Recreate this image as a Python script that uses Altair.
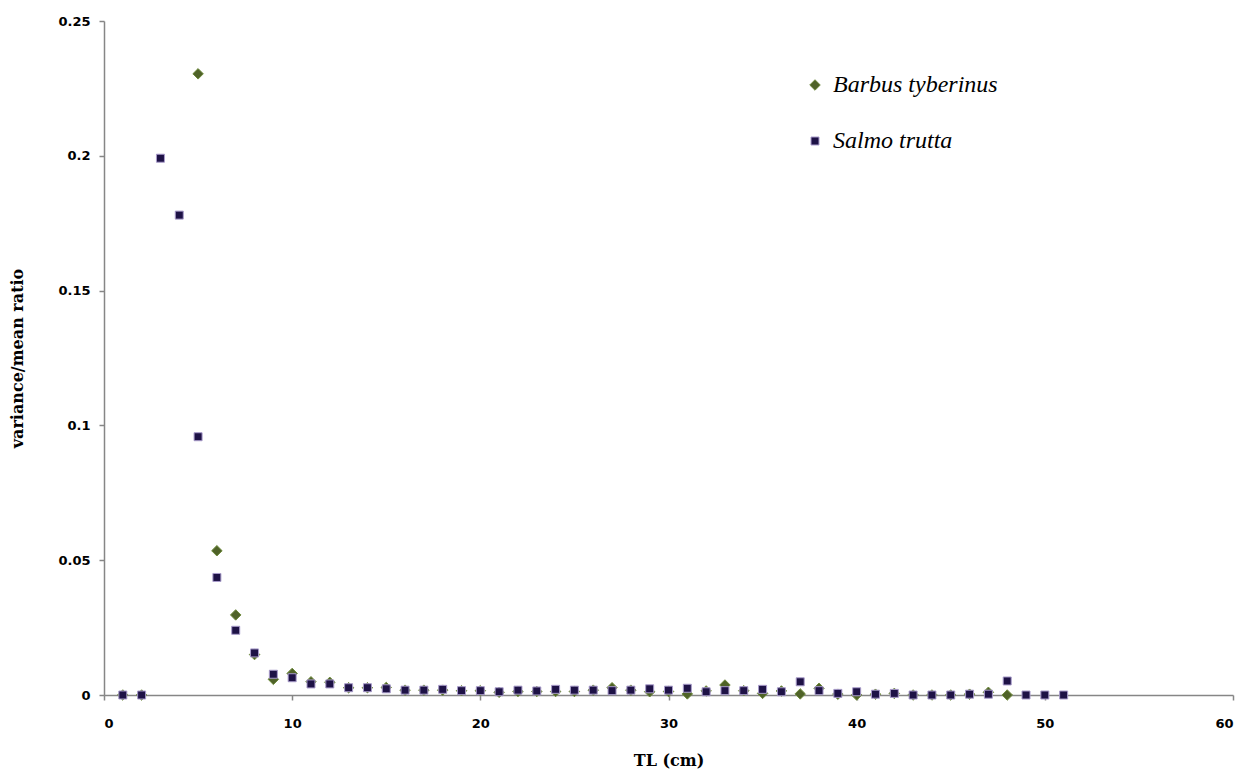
import altair as alt
import pandas as pd

species_names = ["Barbus tyberinus", "Salmo trutta"]

barbus_tl = [1, 2, 5, 6, 7, 8, 9, 10, 11, 12, 13, 14, 15, 16, 17, 18, 19, 20, 21, 22, 23, 24, 25,
             26, 27, 28, 29, 30, 31, 32, 33, 34, 35, 36, 37, 38, 39, 40, 41, 42, 43, 44, 45, 46, 47, 48]
barbus_ratio = [0.0, 0.0, 0.2304, 0.0535, 0.0297, 0.0150, 0.0058, 0.0080, 0.0049, 0.0047, 0.0027,
                0.0027, 0.0028, 0.0018, 0.0018, 0.0018, 0.0016, 0.0016, 0.0010, 0.0013, 0.0013,
                0.0013, 0.0013, 0.0018, 0.0027, 0.0018, 0.0012, 0.0013, 0.0004, 0.0015, 0.0037,
                0.0016, 0.0006, 0.0015, 0.0004, 0.0025, 0.0003, 0.0, 0.0003, 0.0006, 0.0, 0.0,
                0.0, 0.0003, 0.0010, 0.0]

salmo_tl = list(range(1, 52))
salmo_ratio = [0.0, 0.0, 0.1991, 0.178, 0.0958, 0.0436, 0.0240, 0.0156, 0.0077, 0.0064, 0.0041,
               0.0041, 0.0027, 0.0027, 0.0023, 0.0018, 0.0018, 0.0021, 0.0016, 0.0016, 0.0012,
               0.0018, 0.0015, 0.0021, 0.0018, 0.0018, 0.0016, 0.0018, 0.0023, 0.0018, 0.0025,
               0.0012, 0.0016, 0.0016, 0.0021, 0.0012, 0.0049, 0.0016, 0.0006, 0.0012, 0.0003,
               0.0006, 0.0, 0.0, 0.0, 0.0003, 0.0003, 0.0052, 0.0, 0.0, 0.0]

x_ticks = [0, 10, 20, 30, 40, 50, 60]
y_ticks = [0, 0.05, 0.1, 0.15, 0.2, 0.25]

rows = []
for tl, r in zip(barbus_tl, barbus_ratio):
    rows.append({"TL": tl, "ratio": r, "species": species_names[0]})
for tl, r in zip(salmo_tl, salmo_ratio):
    rows.append({"TL": tl, "ratio": r, "species": species_names[1]})
df = pd.DataFrame(rows)

legend = alt.Legend(
    title=None, orient="none", legendX=699, legendY=52,
    labelFont="Liberation Serif", labelFontStyle="italic", labelFontSize=24,
    labelColor="#000000", rowPadding=32, symbolStrokeWidth=1, labelOffset=6,
    labelLimit=400,
)

chart = alt.Chart(df).mark_point(filled=True, opacity=1, strokeWidth=1).encode(
    x=alt.X("TL:Q", scale=alt.Scale(domain=[0, 60], nice=False),
            axis=alt.Axis(values=x_ticks, title="TL (cm)", format="d")),
    y=alt.Y("ratio:Q", scale=alt.Scale(domain=[0, 0.25], nice=False),
            axis=alt.Axis(values=y_ticks, title="variance/mean ratio", format="~g")),
    shape=alt.Shape("species:N", scale=alt.Scale(domain=species_names, range=["diamond", "square"]),
                    legend=legend),
    fill=alt.Fill("species:N", scale=alt.Scale(domain=species_names, range=["#4F6228", "#1E1246"]),
                  legend=legend),
    stroke=alt.Stroke("species:N", scale=alt.Scale(domain=species_names, range=["#6E8A3C", "#A99CCB"]),
                      legend=legend),
    size=alt.Size("species:N", scale=alt.Scale(domain=species_names, range=[110, 64]),
                  legend=legend),
    order=alt.Order("species:N"),
).properties(
    width=1129, height=674,
    autosize=alt.AutoSizeParams(type="none"),
    padding={"left": 96, "top": 13, "right": 10, "bottom": 78},
    background="white",
).configure_view(
    stroke=None
).configure_axis(
    grid=False,
    domainColor="#868686", tickColor="#868686", domainWidth=1.5, tickWidth=1.5,
    tickSize=5,
    labelFont="DejaVu Sans", labelFontWeight="bold", labelFontSize=13, labelColor="#000000",
    titleFont="DejaVu Serif", titleFontWeight="bold", titleFontSize=16, titleColor="#000000",
).configure_axisX(
    labelPadding=17, titlePadding=22,
).configure_axisY(
    labelPadding=9, titlePadding=32,
)

chart.save("out.html", embed_options={"renderer": "svg", "actions": False})
